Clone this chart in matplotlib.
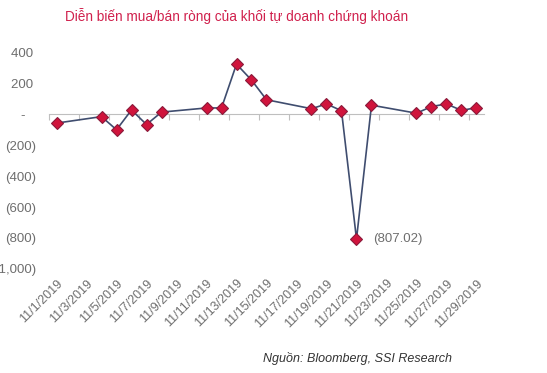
import matplotlib
matplotlib.use("Agg")
import matplotlib.pyplot as plt
from matplotlib.ticker import FuncFormatter, FixedLocator

plt.rcParams['font.family'] = ['Liberation Sans', 'DejaVu Sans']

# Dữ liệu: ngày trong tháng 11/2019 và giá trị mua/bán ròng (tỷ đồng)
days = [1, 4, 5, 6, 7, 8, 11, 12, 13, 14, 15, 18, 19, 20, 21, 22, 25, 26, 27, 28, 29]
values = [-58, -16, -101, 27, -67, 13, 40, 40, 323, 220, 93, 35, 66, 22, -807.02, 58, 6, 49, 66, 24, 42]
label_days = list(range(1, 30, 2))
tick_labels = ["11/%d/2019" % d for d in label_days]

title = "Diễn biến mua/bán ròng của khối tự doanh chứng khoán"
source = "Nguồn: Bloomberg, SSI Research"

grey = "#6e6e6e"

fig = plt.figure(figsize=(5.47, 3.73), dpi=100)
ax = fig.add_axes([0.0896, 0.279, 0.7952, 0.581])

ax.plot(days, values, color="#3f4d6f", linewidth=1.2, marker="D", markersize=5.8,
        markerfacecolor="#d0143c", markeredgecolor="#8b1a3a", markeredgewidth=0.8, zorder=3)

ax.set_xlim(0.5, 29.5)
ax.set_ylim(-1000, 400)
ax.set_yticks(range(-1000, 401, 200))


def fmt(v, pos):
    v = int(round(v))
    if v == 0:
        return "-   "
    if v < 0:
        return "({:,})".format(-v)
    return "{:,} ".format(v)


ax.yaxis.set_major_formatter(FuncFormatter(fmt))
ax.tick_params(axis="y", length=0, pad=9, labelsize=9.5, labelcolor=grey)

# trục ngang tại 0 với các vạch chia
for s in ["top", "right", "left"]:
    ax.spines[s].set_visible(False)
ax.spines["bottom"].set_position(("data", 0))
ax.spines["bottom"].set_color("#bfbfbf")
ax.xaxis.set_major_locator(FixedLocator([d - 0.5 for d in label_days]))
ax.xaxis.set_ticklabels([])
ax.tick_params(axis="x", length=4, color="#bfbfbf", direction="out")

# nhãn ngày ở đáy biểu đồ
sec = ax.secondary_xaxis("bottom")
sec.set_xticks(label_days)
sec.set_xticklabels(tick_labels, rotation=45, ha="right", rotation_mode="anchor")
sec.spines["bottom"].set_visible(False)
sec.tick_params(length=0, pad=6, labelsize=9, labelcolor=grey)

ax.annotate("(807.02)", xy=(21, -807.02), xytext=(12, 0), textcoords="offset points",
            va="center", ha="left", fontsize=9.5, color=grey)

fig.text(0.119, 0.957, title, fontsize=9.8, color="#d0214d", va="center", ha="left")
fig.text(0.826, 0.04, source, fontsize=9, style="italic", color="#333333", va="center", ha="right")

fig.savefig("out.png", dpi=100)
